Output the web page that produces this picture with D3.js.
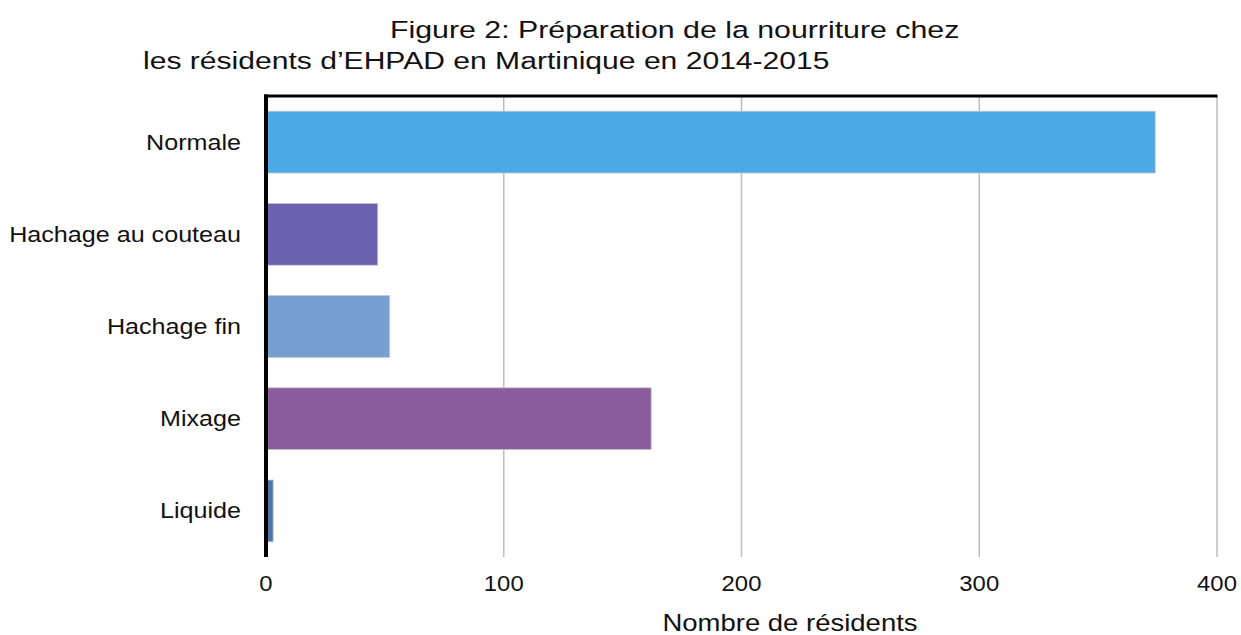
<!DOCTYPE html>
<html>
<head>
<meta charset="utf-8">
<script src="https://cdn.jsdelivr.net/npm/d3@7"></script>
<style>
  html,body{margin:0;padding:0;background:#fff;}
  svg{display:block;}
  text{font-family:"Liberation Sans", Arial, Helvetica, sans-serif;fill:#111;}
</style>
</head>
<body>
<div id="chart"></div>
<script>
// Figure 2 — préparation de la nourriture (EHPAD Martinique 2014-2015)
const categories = ['Normale','Hachage au couteau','Hachage fin','Mixage','Liquide'];
const values = [374, 47, 52, 162, 3];
const colors = ['#4ba9e5','#6b61ae','#779fd0','#8a5c9b','#4d76a6'];
const xTicks = [0, 100, 200, 300, 400];
const titleLines = ['Figure 2: Préparation de la nourriture chez', 'les résidents d’EHPAD en Martinique en 2014-2015'];
const xLabel = 'Nombre de résidents';

const W = 1241, H = 635;
const m = {t:96, r:24, b:78, l:266};
const svg = d3.select('#chart').append('svg').attr('width',W).attr('height',H);

const x = d3.scaleLinear().domain([0,400]).range([m.l, 1217]);
const y = d3.scaleBand().domain(categories).range([m.t, H-m.b]).paddingInner(0.33).paddingOuter(0.165);

// horizontally stretched text, like the source image
function stext(g, tx, ty, str, size, sx, anchor){
  return g.append('text').attr('transform',`translate(${tx},${ty}) scale(${sx},1)`)
    .attr('font-size',size).attr('text-anchor',anchor||'start').text(str);
}

// title
stext(svg, 390, 38, titleLines[0], 23.5, 1.29);
stext(svg, 143, 69, titleLines[1], 23.5, 1.28);

// gridlines
svg.append('g').selectAll('line').data(xTicks.filter(d=>d>0)).join('line')
  .attr('x1',d=>x(d)).attr('x2',d=>x(d)).attr('y1',m.t).attr('y2',H-m.b)
  .attr('stroke','#bdbdbd').attr('stroke-width',1.5);

// bars
svg.append('g').selectAll('rect').data(categories).join('rect')
  .attr('x',x(0)).attr('y',d=>y(d))
  .attr('width',(d,i)=>x(values[i])-x(0)).attr('height',y.bandwidth())
  .attr('fill',(d,i)=>colors[i]).attr('stroke','#c4c4c4').attr('stroke-width',0.8);

// frame: top line + left axis
svg.append('line').attr('x1',x(0)-2).attr('x2',x(400)+0.5).attr('y1',m.t).attr('y2',m.t)
  .attr('stroke','#000').attr('stroke-width',3);
svg.append('line').attr('x1',x(0)).attr('x2',x(0)).attr('y1',m.t-1.5).attr('y2',H-m.b)
  .attr('stroke','#000').attr('stroke-width',4);

// category labels
categories.forEach(c=>{
  stext(svg, 241, y(c)+y.bandwidth()/2+7.5, c, 21.3, 1.18, 'end');
});

// tick labels
xTicks.forEach(t=>{
  stext(svg, x(t), 591, d3.format('d')(t), 21.3, 1.12, 'middle');
});

// axis title
stext(svg, 790, 631, xLabel, 23.5, 1.17, 'middle');
</script>
</body>
</html>
